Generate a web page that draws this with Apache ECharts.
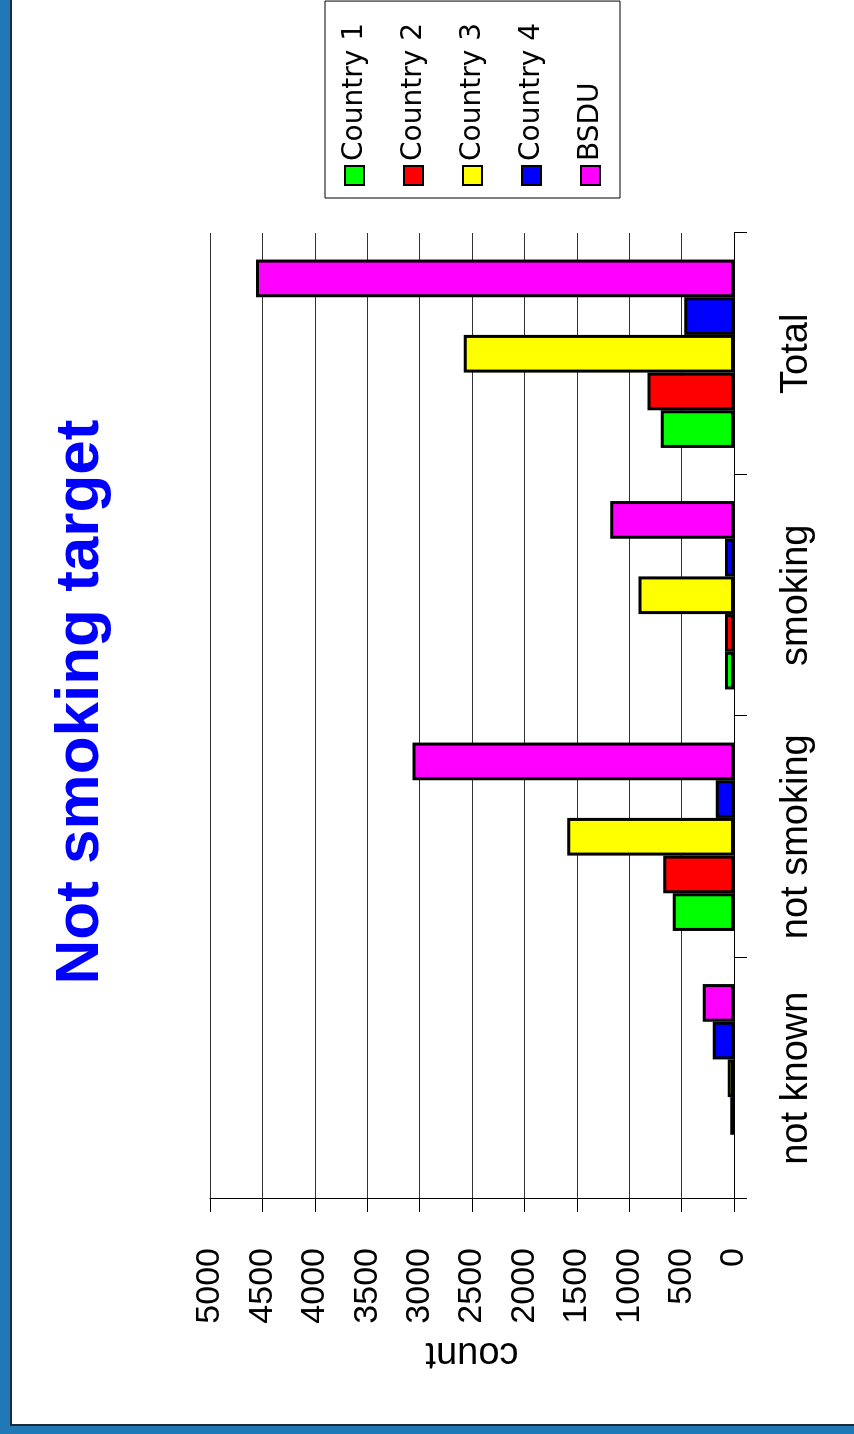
<!DOCTYPE html>
<html>
<head>
<meta charset="utf-8">
<title>Not smoking target</title>
<script src="https://cdn.jsdelivr.net/npm/echarts@6/dist/echarts.min.js"></script>
<style>
  html, body { margin: 0; padding: 0; background: #ffffff; overflow: hidden; }
  #page { position: relative; width: 854px; height: 1434px; overflow: hidden; background: #fff; }
  /* the chart is laid out landscape and turned a quarter turn anticlockwise */
  #chart {
    position: absolute; left: 0; top: 0;
    width: 1434px; height: 854px;
    transform-origin: 0 0;
    transform: translate(0, 1434px) rotate(-90deg);
  }
  .frame { position: absolute; background: #2079b4; }
  .edge { position: absolute; background: #1b2b3b; }
</style>
</head>
<body>
<div id="page">
  <div id="chart"></div>
  <div class="frame" style="left:0;top:0;width:10px;height:1434px"></div>
  <div class="edge" style="left:10px;top:0;width:2px;height:1425px"></div>
  <div class="frame" style="left:0;top:1426px;width:854px;height:8px"></div>
  <div class="edge" style="left:10px;top:1424px;width:844px;height:2px"></div>
</div>
<script>
// Counts per smoking status (null = no bar drawn)
const categories = ['not known', 'not smoking', 'smoking', 'Total'];
const seriesNames = ['Country 1', 'Country 2', 'Country 3', 'Country 4', 'BSDU'];
const country1 = [null, 585, 86, 700];
const country2 = [35, 675, 86, 826];
const country3 = [60, 1590, 911, 2578];
const country4 = [203, 175, 86, 474];
const bsdu = [297, 3067, 1181, 4562];
const seriesColors = ['#00ff00', '#ff0000', '#ffff00', '#0000ff', '#ff00ff'];
const valueMin = 0, valueMax = 5000, valueStep = 500;

const seriesData = [country1, country2, country3, country4, bsdu];

const chart = echarts.init(document.getElementById('chart'), null, { renderer: 'canvas' });

chart.setOption({
  animation: false,
  backgroundColor: '#ffffff',
  graphic: [{
    type: 'text',
    x: 732, y: 81,
    style: {
      text: 'Not smoking target',
      fill: '#0000ff',
      font: 'bold 62px "Liberation Sans", Arial, sans-serif',
      align: 'center',
      verticalAlign: 'middle'
    }
  }],
  legend: {
    orient: 'vertical',
    left: 1236,
    top: 325,
    padding: [14, 22, 14, 12],
    itemGap: 28,
    itemWidth: 19,
    itemHeight: 19,
    icon: 'rect',
    borderColor: '#000',
    borderWidth: 1,
    backgroundColor: '#fff',
    textStyle: {
      fontFamily: '"DejaVu Sans", "Liberation Sans", sans-serif',
      fontSize: 28,
      lineHeight: 31,
      color: '#000'
    },
    data: seriesNames
  },
  grid: { left: 235, right: 233, top: 210, bottom: 120, containLabel: false },
  xAxis: {
    type: 'category',
    data: categories,
    axisLine: { show: true, lineStyle: { color: '#000', width: 1 } },
    axisTick: { show: true, length: 13, inside: false, lineStyle: { color: '#000' } },
    axisLabel: {
      interval: 0,
      margin: 44,
      fontFamily: '"Liberation Sans", Arial, sans-serif',
      fontSize: 38,
      color: '#000'
    },
    splitLine: { show: false }
  },
  yAxis: {
    type: 'value',
    min: valueMin,
    max: valueMax,
    interval: valueStep,
    name: 'count',
    nameLocation: 'middle',
    nameRotate: 90,
    nameGap: 135,
    nameTextStyle: {
      fontFamily: '"Liberation Sans", Arial, sans-serif',
      fontSize: 38,
      color: '#000'
    },
    axisLine: { show: true, lineStyle: { color: '#000', width: 1 } },
    axisTick: { show: true, length: 13, inside: false, lineStyle: { color: '#000' } },
    axisLabel: {
      margin: 49,
      formatter: (v) => String(v),
      fontFamily: '"Liberation Sans", Arial, sans-serif',
      fontSize: 34,
      color: '#000'
    },
    splitLine: { show: true, lineStyle: { color: '#333', width: 1 } }
  },
  series: seriesNames.map((name, i) => ({
    name: name,
    type: 'bar',
    data: seriesData[i],
    barGap: '0%',
    barCategoryGap: '22%',
    itemStyle: { color: seriesColors[i], borderColor: '#000', borderWidth: 3 }
  }))
});
</script>
</body>
</html>
